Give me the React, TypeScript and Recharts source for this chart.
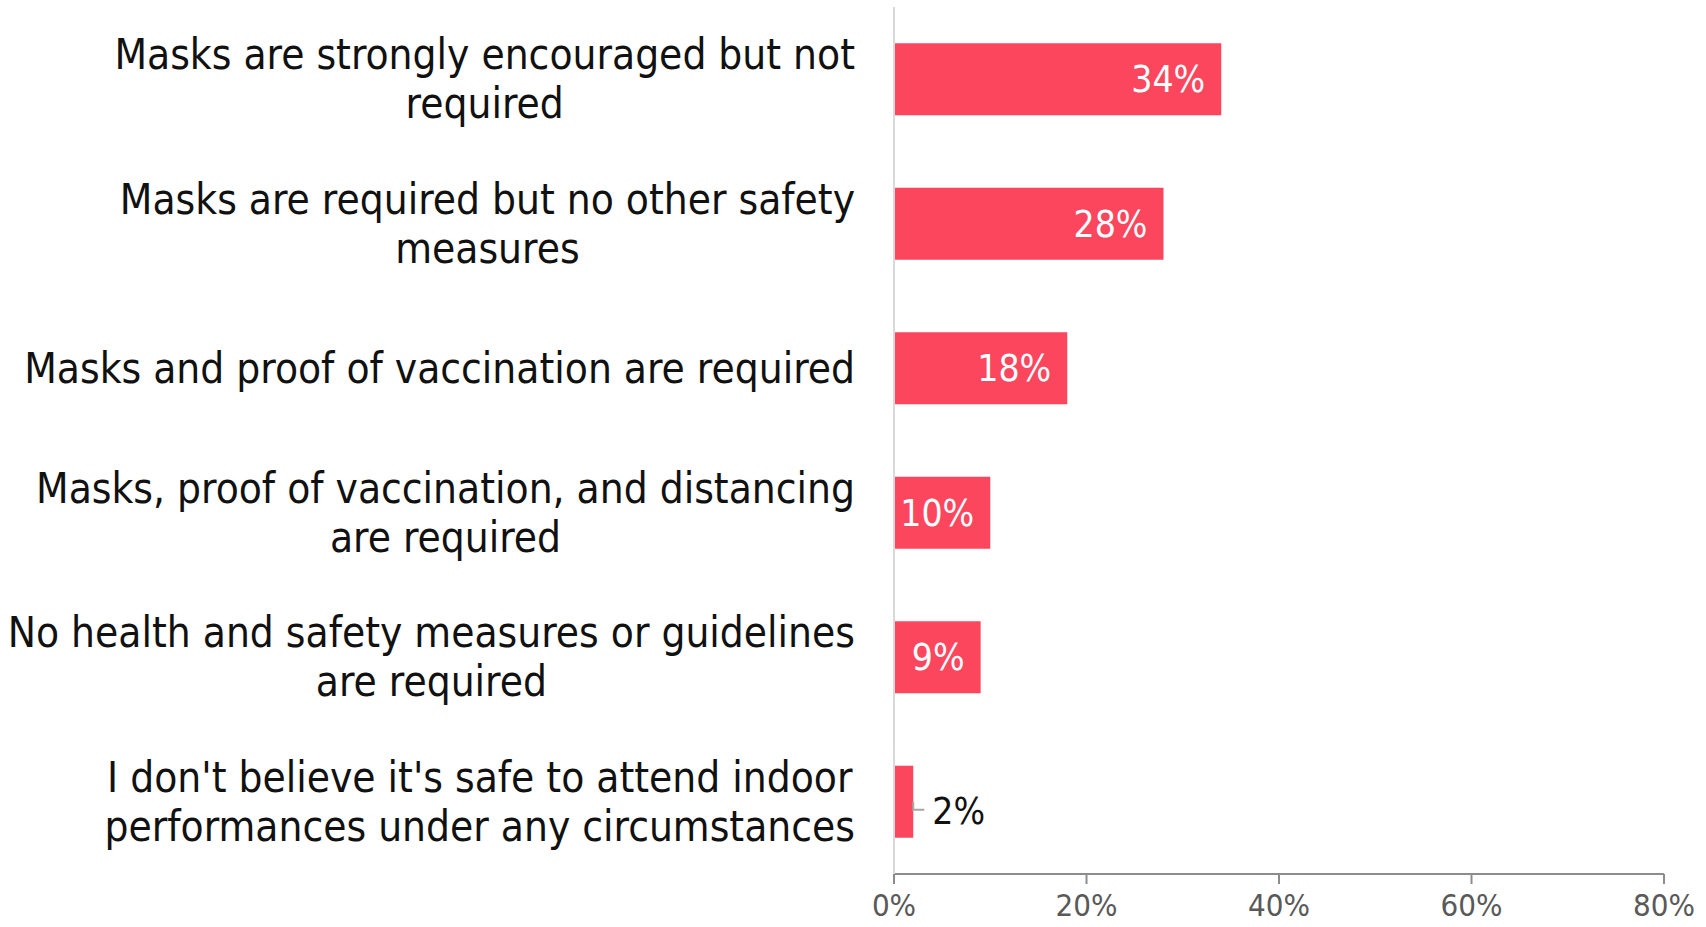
import React from "react";
import { BarChart, Bar, XAxis, YAxis, LabelList } from "recharts";

// answer options (line breaks as in the original chart)
const categories = [
  "Masks are strongly encouraged but not\nrequired",
  "Masks are required but no other safety\nmeasures",
  "Masks and proof of vaccination are required",
  "Masks, proof of vaccination, and distancing\nare required",
  "No health and safety measures or guidelines\nare required",
  "I don't believe it's safe to attend indoor\nperformances under any circumstances",
];
const shares = [34, 28, 18, 10, 9, 2];
const xTicks = [0, 20, 40, 60, 80];

const data = categories.map((name, i) => ({ name, value: shares[i] }));

const FONT = '"DejaVu Sans Condensed", "DejaVu Sans", sans-serif';
const LABEL_SIZE = 42;
const VALUE_SIZE = 37;
const BAR_COLOR = "#FB465E";

let ctx: CanvasRenderingContext2D | null = null;
const measure = (s: string) => {
  if (!ctx) ctx = document.createElement("canvas").getContext("2d");
  if (!ctx) return s.length * LABEL_SIZE * 0.5;
  ctx.font = `${LABEL_SIZE}px ${FONT}`;
  return ctx.measureText(s).width;
};

const CategoryTick = ({ x, y, payload }: any) => {
  const lines = String(payload.value).split("\n");
  const maxW = Math.max(...lines.map(measure));
  const cx = x - maxW / 2;
  const lh = 49;
  const y0 = y - ((lines.length - 1) * lh) / 2;
  return (
    <text textAnchor="middle" fontFamily={FONT} fontSize={LABEL_SIZE} fill="#111">
      {lines.map((l, i) => (
        <tspan key={i} x={cx} y={y0 + i * lh} dy="0.35em">
          {l}
        </tspan>
      ))}
    </text>
  );
};

const ValueLabel = (props: any) => {
  const { x, y, width, height, value } = props;
  const midY = y + height / 2;
  if (value >= 5) {
    return (
      <text x={x + width - 16} y={midY} dy="0.35em" textAnchor="end" fontFamily={FONT} fontSize={VALUE_SIZE} fill="#fff">
        {value}%
      </text>
    );
  }
  const end = x + width;
  return (
    <g>
      <polyline points={`${end},${midY} ${end},${midY + 8} ${end + 11},${midY + 8}`} fill="none" stroke="#A6A6A6" strokeWidth={2} />
      <text x={end + 19} y={midY + 9} dy="0.35em" fontFamily={FONT} fontSize={VALUE_SIZE} fill="#111">
        {value}%
      </text>
    </g>
  );
};

export default function App() {
  return (
    <div style={{ position: "absolute", left: 0, top: 0, background: "#fff" }}>
      <BarChart
        width={1706}
        height={927}
        data={data}
        layout="vertical"
        barCategoryGap="25%"
        margin={{ top: 7, right: 42, bottom: 0, left: 0 }}
      >
        <XAxis
          type="number"
          domain={[0, 80]}
          ticks={xTicks}
          tickFormatter={(v) => `${v}%`}
          axisLine={{ stroke: "#8C8C8C", strokeWidth: 2 }}
          tickLine={{ stroke: "#8C8C8C", strokeWidth: 2 }}
          tickSize={10}
          tickMargin={10}
          height={53}
          tick={{ fill: "#595959", fontSize: 31, fontFamily: FONT }}
        />
        <YAxis
          type="category"
          dataKey="name"
          width={894}
          axisLine={{ stroke: "#D9D9D9", strokeWidth: 2 }}
          tickLine={false}
          tickSize={0}
          tickMargin={39}
          tick={<CategoryTick />}
          interval={0}
        />
        <Bar dataKey="value" fill={BAR_COLOR} isAnimationActive={false}>
          <LabelList dataKey="value" content={<ValueLabel />} />
        </Bar>
      </BarChart>
    </div>
  );
}
